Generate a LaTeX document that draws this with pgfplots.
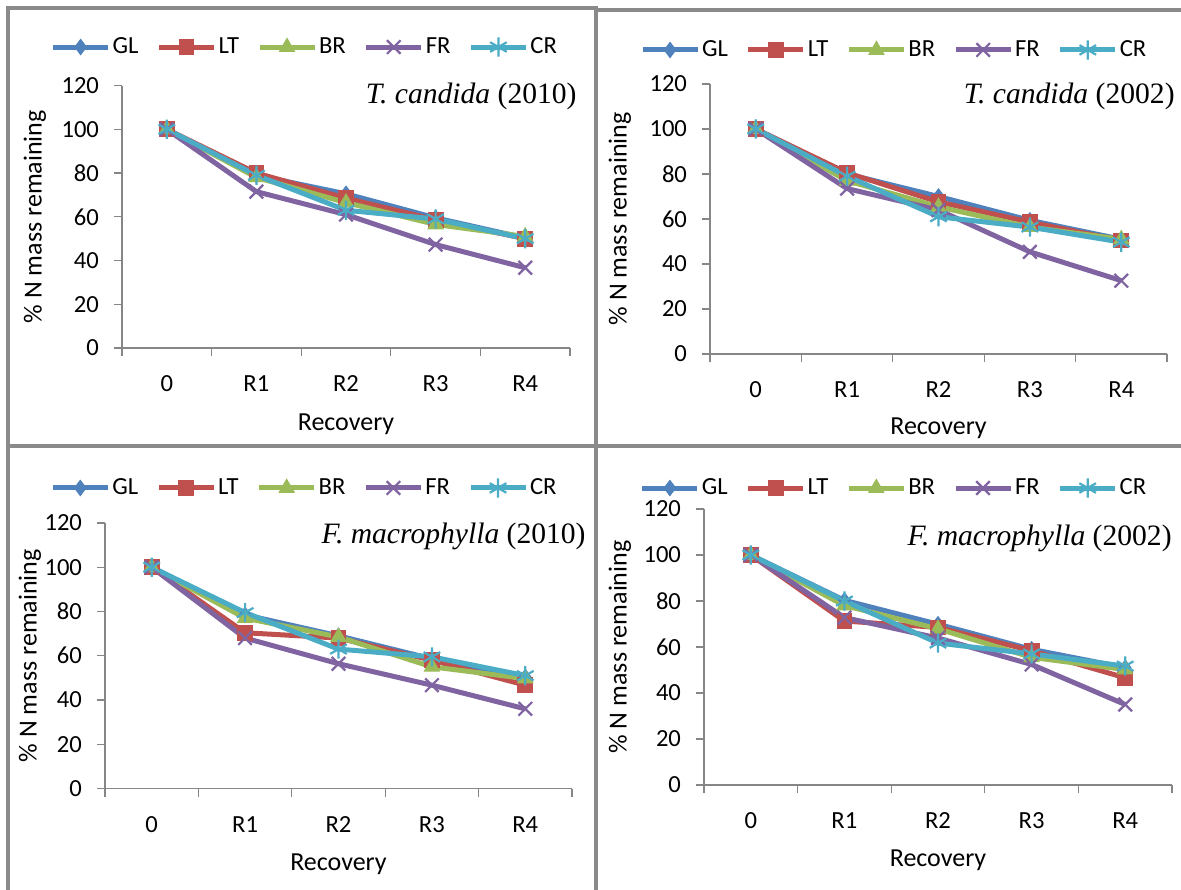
\documentclass[border=0pt]{standalone}
\usepackage{fontspec}
\setmainfont{Carlito}
\newfontfamily\titlefont{Liberation Serif}
\usepackage{pgfplots}
\pgfplotsset{compat=1.18}
\definecolor{cGL}{HTML}{4F81BD}
\definecolor{cLT}{HTML}{C0504D}
\definecolor{cBR}{HTML}{9BBB59}
\definecolor{cFR}{HTML}{8064A2}
\definecolor{cCR}{HTML}{4BACC6}
\definecolor{axgray}{HTML}{868686}
\definecolor{framegray}{HTML}{8A8A8A}
\pgfplotsset{
  panel/.style={
    scale only axis, anchor=south west, clip=false,
    xmin=-0.5, xmax=4.5, ymin=0, ymax=120,
    ytick={0,20,...,120},
    xtick={0,1,2,3,4}, xticklabels={0,R1,R2,R3,R4},
    minor xtick={-0.5,0.5,1.5,2.5,3.5,4.5},
    axis x line*=bottom, axis y line*=left,
    axis line style={draw=axgray, line width=0.6pt},
    tick style={draw=axgray, line width=0.6pt},
    major x tick style={draw=none},
    tick align=outside, major tick length=4pt, minor tick length=4pt,
    font=\fontsize{12.3}{14}\selectfont,
    /pgf/number format/assume math mode=true,
    xlabel={Recovery}, ylabel={\% N mass remaining},
    label style={font=\fontsize{13}{15}\selectfont},
    xticklabel style={anchor=center},
    yticklabel style={xshift=-4pt},
    legend columns=5,
    legend style={draw=none, fill=none, anchor=center, inner sep=0pt,
      font=\fontsize{12.3}{14}\selectfont,
      nodes={inner xsep=1pt, inner ysep=0pt},
      /tikz/every even column/.append style={column sep=8pt}},
    legend image code/.code={\draw[mark repeat=2, mark phase=2, ##1] plot coordinates {(0pt,0pt) (13.75pt,0pt) (27.5pt,0pt)};},
  },
  sGL/.style={color=cGL, line width=2.5pt, mark=diamond*, mark size=3.8pt, mark options={solid, fill=cGL, draw=cGL, line width=0.5pt}},
  sLT/.style={color=cLT, line width=2.5pt, mark=square*, mark size=3.7pt, mark options={solid, fill=cLT, draw=cLT, line width=0.5pt}},
  sBR/.style={color=cBR, line width=2.5pt, mark=triangle*, mark size=4.3pt, mark options={solid, fill=cBR, draw=cBR, line width=0.5pt}},
  sFR/.style={color=cFR, line width=2.5pt, mark=x, mark size=4.8pt, mark options={solid, draw=cFR, line width=1.1pt}},
  sCR/.style={color=cCR, line width=2.5pt, mark=asterisk, mark size=4.8pt, mark options={solid, draw=cCR, line width=1.1pt}},
}
\begin{document}
\begin{tikzpicture}
\path[use as bounding box] (0,0) rectangle (590.5pt,444.5pt);
\draw[framegray, line width=1.6pt] (4pt,440.5pt) rectangle (298pt,221.5pt);
\draw[framegray, line width=1.6pt] (298pt,439.5pt) rectangle (593pt,221.5pt);
\draw[framegray, line width=1.6pt] (4pt,221.5pt) rectangle (298pt,-3pt);
\draw[framegray, line width=1.6pt] (298pt,221.5pt) rectangle (593pt,-3pt);

% Panel 1: T. candida (2010)
\begin{axis}[panel, at={(61pt,270.5pt)}, width=224pt, height=131.2pt,
  xticklabel style={yshift=-14pt},
  xlabel style={at={(axis description cs:0.5,0)}, anchor=center, yshift=-38pt},
  ylabel style={at={(axis description cs:0,0.5)}, anchor=center, yshift=43.5pt},
  legend style={at={(0.408,1.147)}}]
\addplot[sGL] coordinates {(0,100) (1,79) (2,70.5) (3,59.5) (4,50.3)};
\addplot[sLT] coordinates {(0,100) (1,80) (2,68.5) (3,58.6) (4,50)};
\addplot[sBR] coordinates {(0,100) (1,78) (2,66.5) (3,56.5) (4,51)};
\addplot[sFR] coordinates {(0,100) (1,71.5) (2,61) (3,47.3) (4,36.7)};
\addplot[sCR] coordinates {(0,100) (1,79) (2,63) (3,59) (4,50)};
\legend{GL,LT,BR,FR,CR}
\end{axis}

% Panel 2: T. candida (2002)
\begin{axis}[panel, at={(355pt,267.5pt)}, width=228.5pt, height=135pt,
  xticklabel style={yshift=-14pt},
  xlabel style={at={(axis description cs:0.5,0)}, anchor=center, yshift=-37pt},
  ylabel style={at={(axis description cs:0,0.5)}, anchor=center, yshift=45pt},
  legend style={at={(0.403,1.126)}}]
\addplot[sGL] coordinates {(0,100) (1,80) (2,70) (3,59.4) (4,51)};
\addplot[sLT] coordinates {(0,100) (1,80.5) (2,67.6) (3,58.6) (4,50.4)};
\addplot[sBR] coordinates {(0,100) (1,77) (2,65.4) (3,56.4) (4,51)};
\addplot[sFR] coordinates {(0,100) (1,73.5) (2,64) (3,45.4) (4,32.6)};
\addplot[sCR] coordinates {(0,100) (1,79) (2,61) (3,56.4) (4,49.7)};
\legend{GL,LT,BR,FR,CR}
\end{axis}

% Panel 3: F. macrophylla (2010)
\begin{axis}[panel, at={(52.5pt,50.25pt)}, width=233.5pt, height=132.75pt,
  xticklabel style={yshift=-14pt},
  xlabel style={at={(axis description cs:0.5,0)}, anchor=center, yshift=-38pt},
  ylabel style={at={(axis description cs:0,0.5)}, anchor=center, yshift=37.5pt},
  legend style={at={(0.427,1.132)}}]
\addplot[sGL] coordinates {(0,100) (1,78.5) (2,69) (3,58.6) (4,50.4)};
\addplot[sLT] coordinates {(0,100) (1,70.4) (2,68) (3,58) (4,46.7)};
\addplot[sBR] coordinates {(0,100) (1,77) (2,68.5) (3,55) (4,49.7)};
\addplot[sFR] coordinates {(0,100) (1,68) (2,56.4) (3,46.7) (4,36)};
\addplot[sCR] coordinates {(0,100) (1,79.5) (2,63) (3,59.5) (4,51)};
\legend{GL,LT,BR,FR,CR}
\end{axis}

% Panel 4: F. macrophylla (2002)
\begin{axis}[panel, at={(352pt,52pt)}, width=234pt, height=138pt,
  xticklabel style={yshift=-14pt},
  xlabel style={at={(axis description cs:0.5,0)}, anchor=center, yshift=-37.5pt},
  ylabel style={at={(axis description cs:0,0.5)}, anchor=center, yshift=42pt},
  legend style={at={(0.406,1.076)}}]
\addplot[sGL] coordinates {(0,100) (1,80.3) (2,69.9) (3,59) (4,51)};
\addplot[sLT] coordinates {(0,100) (1,71.3) (2,68.5) (3,58.4) (4,46.6)};
\addplot[sBR] coordinates {(0,100) (1,78) (2,67.9) (3,55.5) (4,50.2)};
\addplot[sFR] coordinates {(0,100) (1,72.8) (2,63.9) (3,52.4) (4,35)};
\addplot[sCR] coordinates {(0,100) (1,80) (2,61.7) (3,57) (4,51.7)};
\legend{GL,LT,BR,FR,CR}
\end{axis}

\node[anchor=east, inner sep=0pt, font=\titlefont\fontsize{14.8}{17}\selectfont] at (288.5pt,396.5pt) {\textit{T. candida} (2010)};
\node[anchor=east, inner sep=0pt, font=\titlefont\fontsize{14.8}{17}\selectfont] at (587.5pt,396.5pt) {\textit{T. candida} (2002)};
\node[anchor=east, inner sep=0pt, font=\titlefont\fontsize{14.8}{17}\selectfont] at (293pt,176.5pt) {\textit{F. macrophylla} (2010)};
\node[anchor=east, inner sep=0pt, font=\titlefont\fontsize{14.8}{17}\selectfont] at (586pt,175.5pt) {\textit{F. macrophylla} (2002)};
\end{tikzpicture}
\end{document}
